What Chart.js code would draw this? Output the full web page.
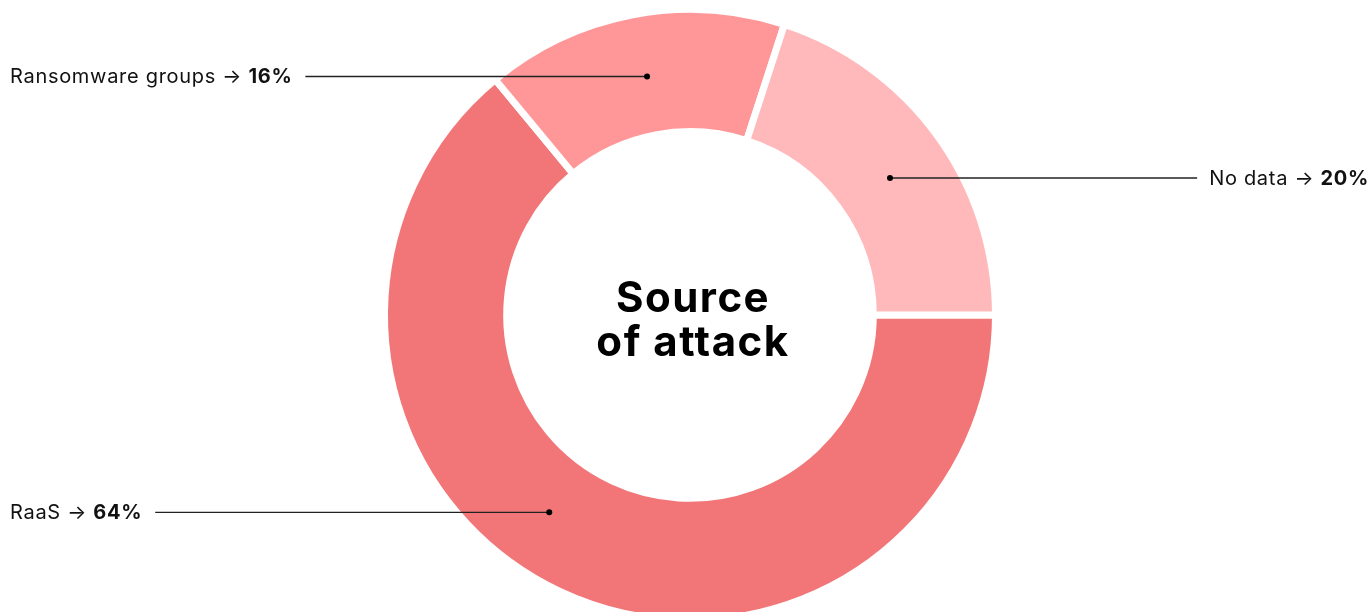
<!DOCTYPE html>
<html>
<head>
<meta charset="utf-8">
<script src="https://cdn.jsdelivr.net/npm/chart.js@4"></script>
<style>
  html, body { margin: 0; padding: 0; background: #fff; overflow: hidden; }
  #wrap { width: 1371px; height: 630px; }
</style>
</head>
<body>
<div id="wrap"><canvas id="myChart"></canvas></div>
<script>
const categories = ["RaaS", "Ransomware groups", "No data"];
const values = [64, 16, 20];
const colors = ["#f27678", "#ff9799", "#ffb9bb"];

// where each label sits: side of the chart and a small angle nudge for the dot
const labelSide = ["left", "left", "right"];
const dotNudge = [10.3, 0.6, 1.6];

const ctx = document.getElementById("myChart");

const calloutPlugin = {
  id: "callouts",
  afterDraw: (chart) => {
    const c = chart.ctx;
    const arcs = chart.getDatasetMeta(0).data;
    c.save();
    c.letterSpacing = "0.7px";
    arcs.forEach((arc, i) => {
      const mid = (arc.startAngle + arc.endAngle) / 2 + (dotNudge[i] * Math.PI) / 180;
      const r = (arc.innerRadius + arc.outerRadius) / 2 - 2;
      const px = arc.x + Math.cos(mid) * r;
      const py = arc.y + Math.sin(mid) * r;

      const name = categories[i] + " \u2192 ";
      const pct = values[i] + "%";
      c.font = "20px Inter";
      const w1 = c.measureText(name).width;
      c.font = "bold 20px Inter";
      const w2 = c.measureText(pct).width;
      c.textBaseline = "middle";
      c.fillStyle = "#111";

      let tx, lineStart;
      if (labelSide[i] === "left") {
        tx = 10;
        lineStart = tx + w1 + w2 + 13;
      } else {
        tx = 1369 - w1 - w2;
        lineStart = tx - 12;
      }
      c.font = "20px Inter";
      c.fillText(name, tx, py + 1);
      c.font = "bold 20px Inter";
      c.fillText(pct, tx + w1, py + 1);

      c.strokeStyle = "#222";
      c.lineWidth = 1.4;
      c.beginPath();
      c.moveTo(lineStart, py);
      c.lineTo(px, py);
      c.stroke();

      c.fillStyle = "#000";
      c.beginPath();
      c.arc(px, py, 3, 0, Math.PI * 2);
      c.fill();
    });

    // centre title
    const a = arcs[0];
    c.fillStyle = "#000";
    c.textAlign = "center";
    c.textBaseline = "middle";
    c.letterSpacing = "1.5px";
    c.font = "bold 42px Inter";
    c.fillText("Source", a.x + 3, a.y - 16);
    c.fillText("of attack", a.x + 3, a.y + 28);
    c.restore();
  },
};

new Chart(ctx, {
  type: "doughnut",
  data: {
    labels: categories,
    datasets: [
      {
        data: values,
        backgroundColor: colors,
        borderColor: "#ffffff",
        borderWidth: 7,
        borderAlign: "center",
      },
    ],
  },
  options: {
    responsive: true,
    maintainAspectRatio: false,
    animation: false,
    rotation: 90,
    cutout: "60%",
    layout: {
      padding: { top: 6, bottom: 6, left: 9, right: 0 },
    },
    plugins: {
      legend: { display: false },
      tooltip: { enabled: false },
    },
  },
  plugins: [calloutPlugin],
});
</script>
</body>
</html>
